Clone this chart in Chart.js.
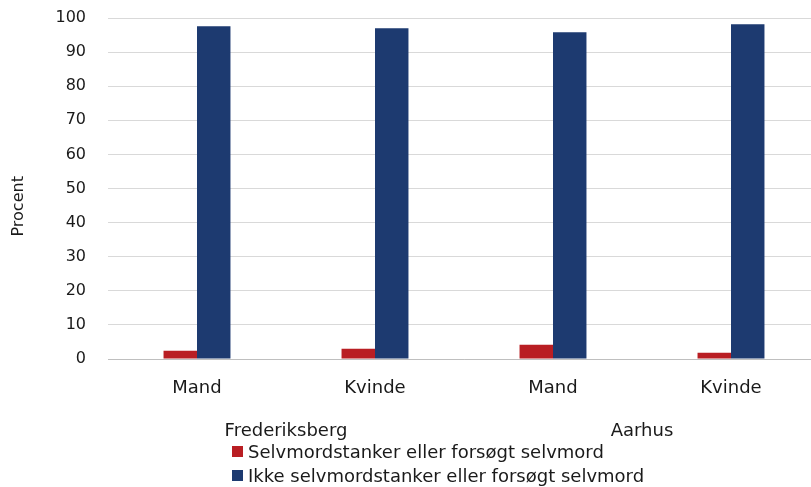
<!DOCTYPE html>
<html lang="da">
<head>
    <meta charset="UTF-8">
    <title>Selvmordstanker - Frederiksberg og Aarhus</title>
    <script src="https://cdn.jsdelivr.net/npm/chart.js"></script>
    <style>
        body {
            margin: 0;
            background: #fff;
            font-family: "DejaVu Sans", sans-serif;
            color: #1a1a1a;
            overflow: hidden;
        }
        .wrap {
            position: relative;
            width: 811px;
            height: 487px;
            overflow: hidden;
        }
        #legend {
            position: absolute;
            left: 232px;
            top: 439px;
            font-size: 18px;
        }
        .legend-item {
            display: flex;
            align-items: center;
            height: 24px;
            white-space: nowrap;
        }
        .legend-item span.box {
            display: inline-block;
            width: 11px;
            height: 11px;
            margin-right: 5px;
        }
    </style>
</head>
<body>
    <div class="wrap">
        <!-- a bit wider than the window: the original plot runs past the right edge -->
        <canvas id="chart" width="820" height="445"></canvas>
        <div id="legend"></div>
    </div>

    <script>
        // data
        const categories = ['Mand', 'Kvinde', 'Mand', 'Kvinde'];
        const groups = ['Frederiksberg', 'Aarhus'];
        const seriesNames = ['Selvmordstanker eller forsøgt selvmord', 'Ikke selvmordstanker eller forsøgt selvmord'];
        const suicidal = [2.4, 3.0, 4.2, 1.8];
        const notSuicidal = [97.6, 97.0, 95.8, 98.2];
        const colors = ['#B91E23', '#1D3A70'];

        const textColor = '#1a1a1a';
        const family = '"DejaVu Sans", sans-serif';

        const chart = new Chart(document.getElementById('chart'), {
            type: 'bar',
            data: {
                labels: categories,
                datasets: [
                    { label: seriesNames[0], data: suicidal, backgroundColor: colors[0] },
                    { label: seriesNames[1], data: notSuicidal, backgroundColor: colors[1] }
                ]
            },
            options: {
                responsive: false,
                animation: false,
                devicePixelRatio: 1,
                layout: { padding: { left: 4, right: 0, top: 18, bottom: 5 } },
                datasets: { bar: { categoryPercentage: 0.376, barPercentage: 1.0 } },
                plugins: {
                    legend: { display: false },
                    tooltip: { enabled: false }
                },
                scales: {
                    x: {
                        grid: { display: false, drawTicks: false },
                        border: { color: '#bfbfbf', width: 1 },
                        ticks: { color: textColor, font: { family, size: 18 }, padding: 19, maxRotation: 0 },
                        afterFit: s => { s.height = 38; }
                    },
                    x2: {
                        type: 'category',
                        position: 'bottom',
                        labels: groups,
                        offset: true,
                        grid: { display: false, drawTicks: false },
                        border: { display: false },
                        ticks: { color: textColor, font: { family, size: 18 }, padding: 24, maxRotation: 0 },
                        afterFit: s => { s.height = 43; }
                    },
                    y: {
                        min: 0,
                        max: 100,
                        ticks: { stepSize: 10, color: textColor, font: { family, size: 16 }, padding: 22 },
                        grid: { color: '#d9d9d9', drawTicks: false },
                        border: { display: false },
                        title: {
                            display: true,
                            // trailing spaces push the word a little below the middle, as in the original
                            text: 'Procent' + '\u00A0'.repeat(7),
                            color: textColor,
                            font: { family, size: 16 },
                            padding: { top: 5, bottom: 28 }
                        },
                        afterFit: s => {
                            s.width = 104;
                            s.paddingTop = 0;
                            s.paddingBottom = 0;
                        }
                    }
                }
            }
        });

        // HTML legend, stacked like the original
        const legend = document.getElementById('legend');
        legend.innerHTML = chart.data.datasets.map(ds =>
            `<div class="legend-item"><span class="box" style="background:${ds.backgroundColor}"></span>${ds.label}</div>`
        ).join('');
    </script>
</body>
</html>
